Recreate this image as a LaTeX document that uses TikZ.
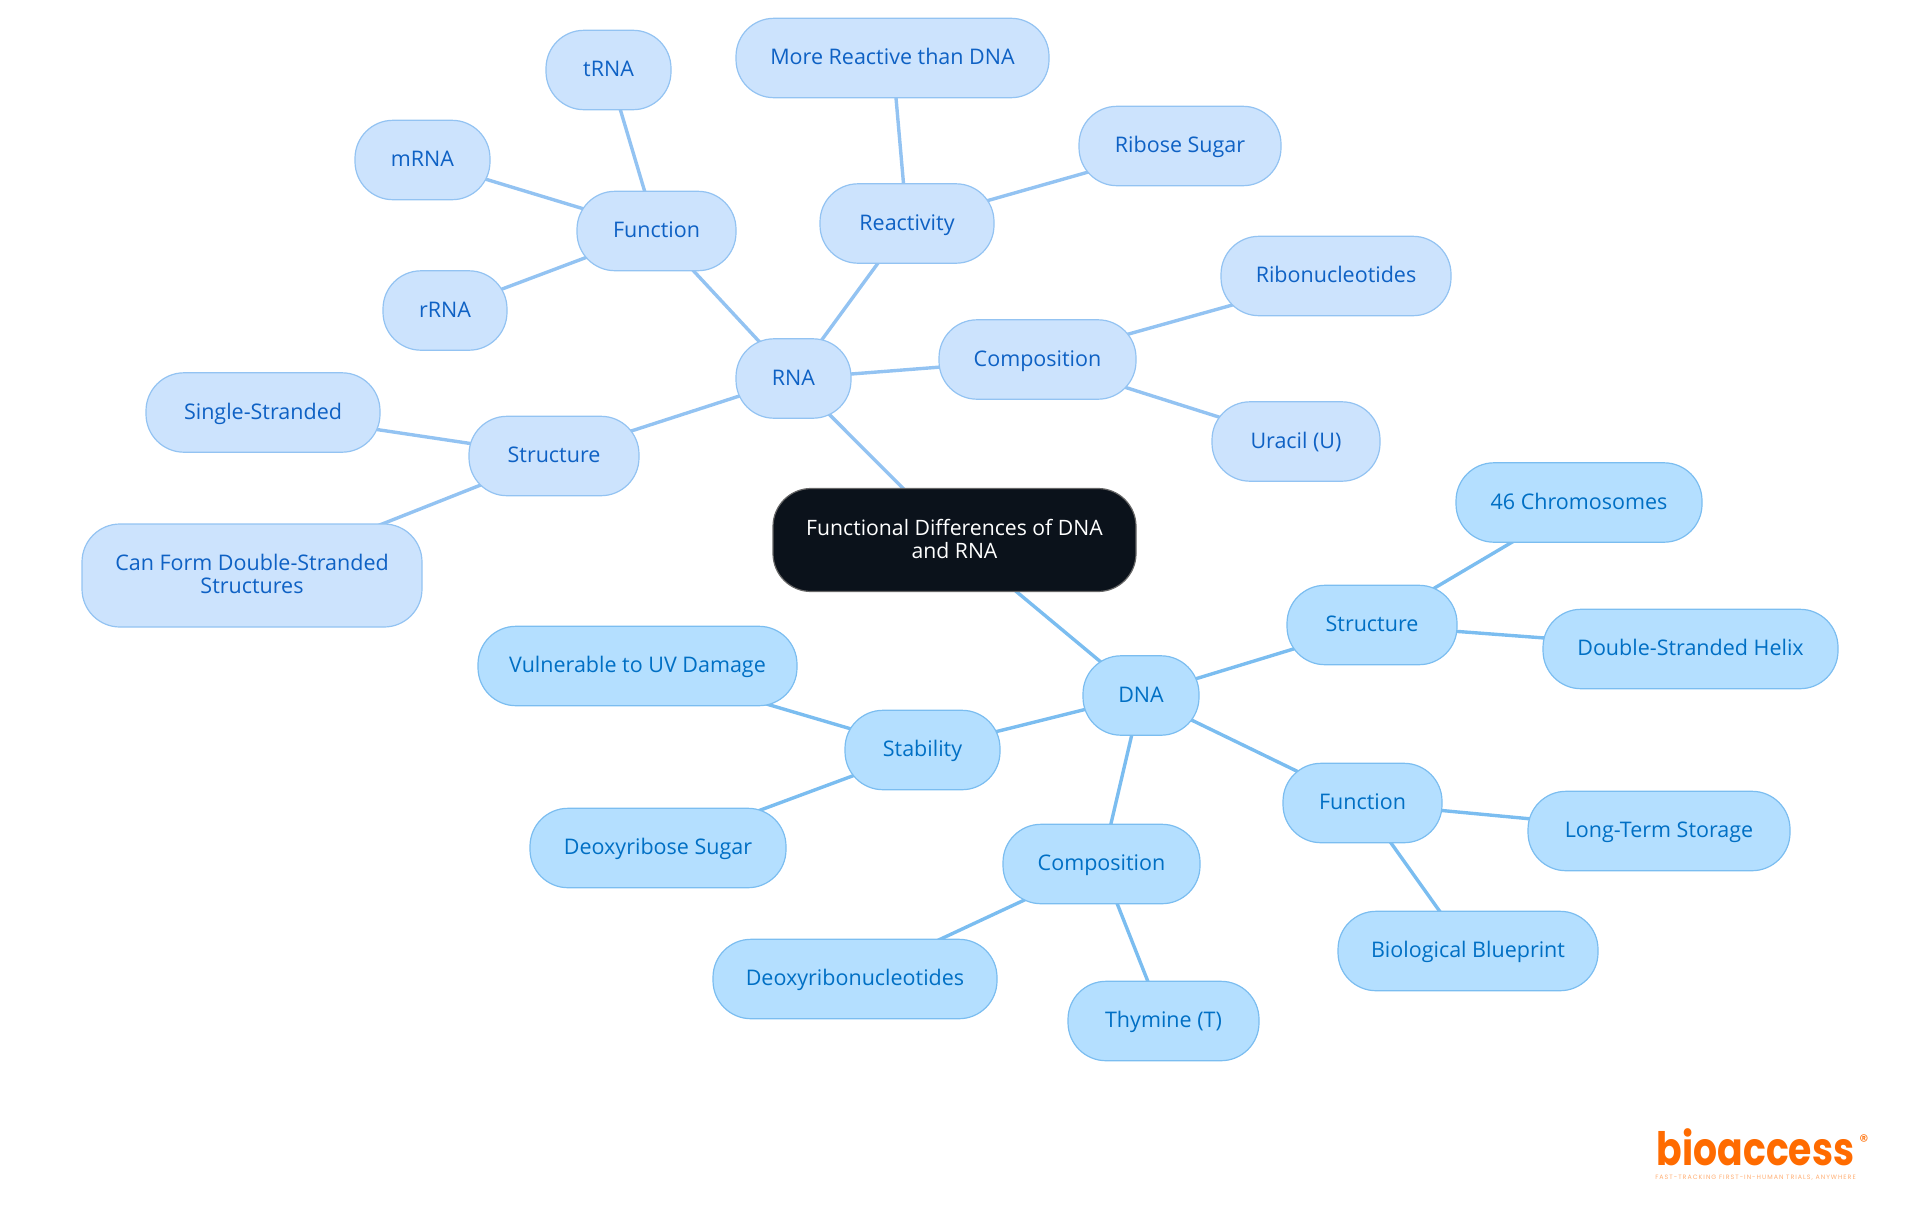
\documentclass[tikz,border=0pt]{standalone}
\usepackage{fontspec}
\usepackage{tikz}
\usetikzlibrary{backgrounds}
\setmainfont{Open Sans}
\newfontfamily\logofont{Poppins}
\newfontfamily\tagfont[LetterSpace=16]{Poppins}
\definecolor{rnafill}{HTML}{CCE3FD}
\definecolor{rnaline}{HTML}{93C3F2}
\definecolor{rnatext}{HTML}{0E61C4}
\definecolor{dnafill}{HTML}{B4DFFF}
\definecolor{dnaline}{HTML}{7BBDF0}
\definecolor{dnatext}{HTML}{006FC4}
\definecolor{rootfill}{HTML}{0B121B}
\definecolor{logoorange}{HTML}{FF6B00}

\begin{document}
\begin{tikzpicture}[x=0.5pt, y=-0.5pt,
	mapbox/.style={line width=0.6pt, rounded corners=19pt, inner sep=0pt, align=center, font=\fontsize{10.75}{11.5}\selectfont},
	oneline/.style={minimum height=39.7pt, text height=8.6pt, text depth=1.8pt},
	twoline/.style={minimum height=51.5pt, text depth=1.2pt},
	rnabox/.style={mapbox, draw=rnaline, fill=rnafill, text=rnatext},
	dnabox/.style={mapbox, draw=dnaline, fill=dnafill, text=dnatext},
	rootbox/.style={mapbox, twoline, draw=black!60, fill=rootfill, text=white, font=\fontsize{10.6}{11.5}\selectfont},
	rnalink/.style={draw=rnaline, line width=1.7pt},
	dnalink/.style={draw=dnaline, line width=1.7pt}]
\useasboundingbox (0,0) rectangle (1920,1215);

\node[rootbox, minimum width=181.5pt] (root) at (954.5,540) {Functional Differences of DNA\\and RNA};

% RNA side
\foreach \name/\x/\y/\w/\txt in {
	rna/793.5/378.5/115/RNA,
	rcomp/1037.5/359.5/197/Composition,
	ribonuc/1336/276/230/Ribonucleotides,
	uracil/1296/441.5/168/Uracil (U),
	react/907/223.5/174/Reactivity,
	ribose/1180/146/202/Ribose Sugar,
	morereact/892.5/58/313/More Reactive than DNA,
	rfunc/656.5/231/159/Function,
	trna/608.5/70/125/tRNA,
	mrna/422.5/160/135/mRNA,
	rrna/445/310.5/124/rRNA,
	rstruct/554/456/170/Structure,
	single/263/412.5/234/Single-Stranded} {
	\node[rnabox, oneline, minimum width=\w*0.5pt] (\name) at (\x,\y) {\txt};
	};
\node[rnabox, twoline, minimum width=170pt] (canform) at (252,575.5) {Can Form Double-Stranded\\Structures};

% DNA side
\foreach \name/\x/\y/\w/\txt in {
	dna/1141/695.5/116/DNA,
	dstruct/1372/625/170/Structure,
	chrom/1579/502.5/246/46 Chromosomes,
	helix/1690.5/649/295/Double-Stranded Helix,
	dfunc/1362.5/803/159/Function,
	storage/1659/831/262/Long-Term Storage,
	blueprint/1468/951/260/Biological Blueprint,
	dcomp/1101.5/864/197/Composition,
	deoxynuc/855/979/284/Deoxyribonucleotides,
	thymine/1163.5/1021/191/Thymine (T),
	stab/922.5/750/155/Stability,
	vuln/637.5/666/319/Vulnerable to UV Damage,
	deoxysugar/658/848/256/Deoxyribose Sugar} {
	\node[dnabox, oneline, minimum width=\w*0.5pt] (\name) at (\x,\y) {\txt};
	};

\begin{scope}[on background layer]
\foreach \from/\to in {root/rna, rna/rcomp, rcomp/ribonuc, rcomp/uracil, rna/react, react/ribose, react/morereact, rna/rfunc, rfunc/trna, rfunc/mrna, rfunc/rrna, rna/rstruct, rstruct/single, rstruct/canform} {
	\draw[rnalink] (\from.center) -- (\to.center);
	};
\foreach \from/\to in {root/dna, dna/dstruct, dstruct/chrom, dstruct/helix, dna/dfunc, dfunc/storage, dfunc/blueprint, dna/dcomp, dcomp/deoxynuc, dcomp/thymine, dna/stab, stab/vuln, stab/deoxysugar} {
	\draw[dnalink] (\from.center) -- (\to.center);
	};
\end{scope}

\node[text=logoorange, inner sep=0pt, xscale=0.82, font=\logofont\bfseries\fontsize{23}{23}\selectfont] (logo) at (1755.5,1147) {bioaccess};
\node[text=logoorange, inner sep=0pt, font=\logofont\fontsize{9}{9}\selectfont] (regmark) at (1864,1141) {®};
\node[text=logoorange!55, inner sep=0pt, font=\tagfont\fontsize{3.15}{3.5}\selectfont] (tagline) at (1755.5,1178) {FAST-TRACKING FIRST-IN-HUMAN TRIALS, ANYWHERE};
\end{tikzpicture}
\end{document}
